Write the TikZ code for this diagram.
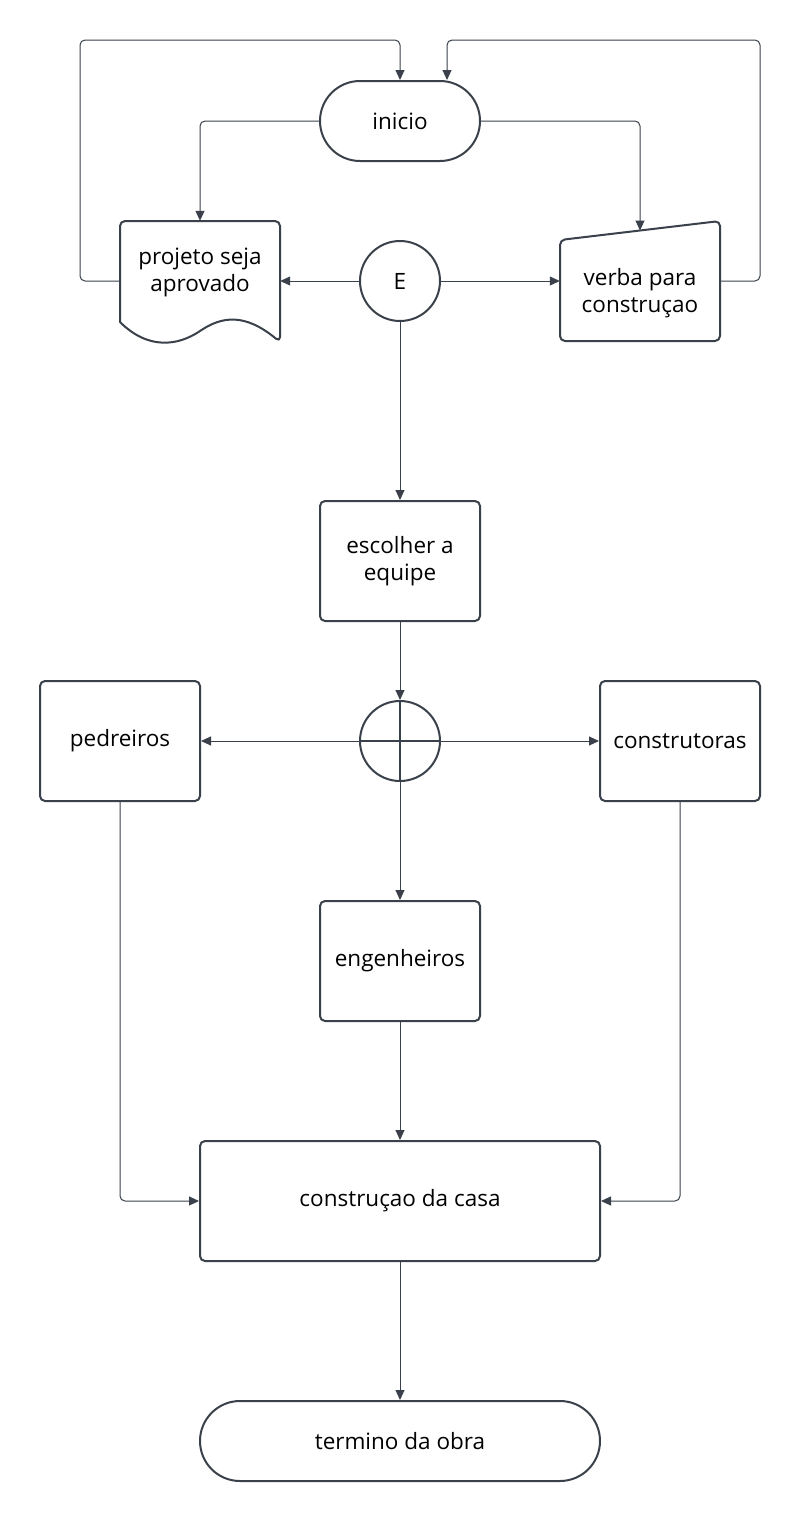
\documentclass[tikz,border=0pt]{standalone}
\usepackage{fontspec}
\setmainfont{Open Sans}
\usetikzlibrary{arrows.meta,shapes.geometric}
\definecolor{ln}{RGB}{58,65,75}
\begin{document}
\begin{tikzpicture}[x=1pt,y=-1pt,
  every node/.style={font=\fontsize{22.5}{27}\selectfont, align=center, text=black},
  shp/.style={draw=ln, line width=2pt, line join=round},
  box/.style={shp, rectangle, rounded corners=5pt, minimum width=160pt, minimum height=120pt, inner sep=0pt},
  stadium/.style={shp, rectangle, rounded corners=40pt, minimum height=80pt, inner sep=0pt},
  ghost/.style={rectangle, minimum width=160pt, minimum height=120pt, inner sep=0pt},
  circ/.style={shp, circle, minimum size=80pt, inner sep=0pt},
  con/.style={draw=ln, line width=1pt, rounded corners=5pt, -{Triangle[length=10pt,width=9pt]}}]
\fill[white] (0,0) rectangle (801,1521);
\useasboundingbox (0,0) rectangle (801,1521);

% nodes
\node[stadium, minimum width=160pt] (ini) at (400,121) {inicio};

\node[ghost] (proj) at (200,281) {};
\draw[shp] (120,322) [rounded corners=5pt] -- (120,221) -- (280,221) -- (280,342) [sharp corners]
  .. controls (245,313) and (222,316) .. (200,331)
  .. controls (178,346) and (148,350) .. (120,322) -- cycle;
\node (projt) at (200,272) {projeto seja\\aprovado};

\node[ghost] (ver) at (640,281) {};
\draw[shp, rounded corners=5pt] (560,240) -- (720,221) -- (720,341) -- (560,341) -- cycle;
\coordinate (vtop) at (640,230.5);
\node (vert) at (640,293) {verba para\\construçao};

\node[circ] (E) at (400,281) {E};
\node[box] (esc) at (400,561) {escolher a\\equipe};
\node[circ] (J) at (400,741) {};
\draw[shp] (J.north) -- (J.south) (J.west) -- (J.east);
\node[box] (ped) at (120,741) {pedreiros};
\node[box] (cons) at (680,741) {construtoras};
\node[box] (eng) at (400,961) {engenheiros};
\node[box, minimum width=400pt] (casa) at (400,1201) {construçao da casa};
\node[stadium, minimum width=400pt] (term) at (400,1441) {termino da obra};

% connectors
\draw[con] (proj.west) -| (80,40) -| (ini.north);
\draw[con] (ver.east) -| (760,40) -| ([xshift=47pt]ini.north);
\draw[con] (ini.west) -| (proj.north);
\draw[con] (ini.east) -| (vtop);
\draw[con] (E.west) -- (proj.east);
\draw[con] (E.east) -- (ver.west);
\draw[con] (E.south) -- (esc.north);
\draw[con] (esc.south) -- (J.north);
\draw[con] (J.west) -- (ped.east);
\draw[con] (J.east) -- (cons.west);
\draw[con] (J.south) -- (eng.north);
\draw[con] (eng.south) -- (casa.north);
\draw[con] (ped.south) |- (casa.west);
\draw[con] (cons.south) |- (casa.east);
\draw[con] (casa.south) -- (term.north);
\end{tikzpicture}
\end{document}
